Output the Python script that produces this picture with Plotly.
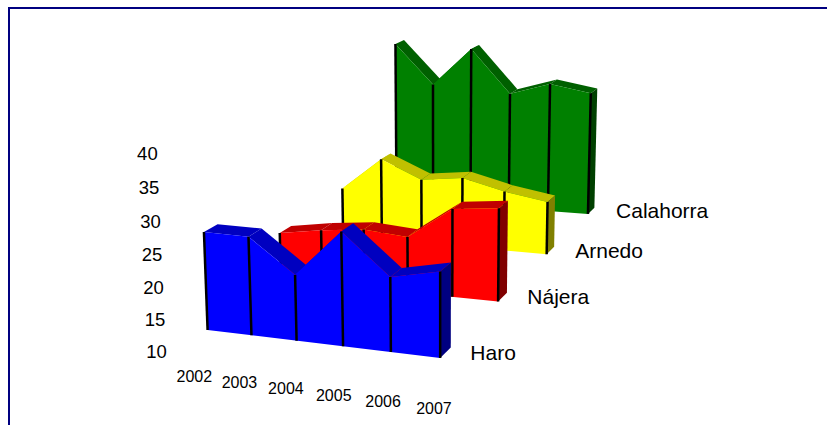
import plotly.graph_objects as go

# ---- data ----
years = ["2002", "2003", "2004", "2005", "2006", "2007"]
value_ticks = [10, 15, 20, 25, 30, 35, 40]
series_names = ["Haro", "Nájera", "Arnedo", "Calahorra"]
haro = [25.5, 25.4, 20.2, 27.4, 21.3, 22.8]
najera = [18.0, 19.1, 19.8, 19.2, 24.3, 25.0]
arnedo = [18.9, 24.7, 21.5, 22.3, 20.4, 19.1]
calahorra = [40.4, 32.9, 39.8, 31.7, 33.8, 32.4]

# ---- styles: front, top, end faces ----
front_colors = ["#0000FF", "#FF0000", "#FFFF00", "#008000"]
top_colors = ["#0000C0", "#C00000", "#C0C000", "#006000"]
end_colors = ["#000080", "#800000", "#808000", "#004000"]
FONT = "Liberation Sans, Arial, sans-serif"
BASE = 10
THICK = 0.17


def project(x, s, v):
    """Perspective view of the (year index, series index, value) box."""
    z = v - BASE
    w = 1 - 0.014 * x + 0.0896 * s - 0.001 * z
    px = (207.6 + 40.35 * x + 98.5 * s - 0.44 * z) / w
    py = (330 + 0.58 * x - 25.5 * s - 6.55 * z) / w
    return px, py


def poly(points, color):
    pts = [project(*p) for p in points] + [project(*points[0])]
    return go.Scatter(x=[p[0] for p in pts], y=[p[1] for p in pts], mode="lines",
                      fill="toself", fillcolor=color, line=dict(width=0),
                      hoverinfo="skip", showlegend=False)


fig = go.Figure()
all_series = [haro, najera, arnedo, calahorra]
xs = list(range(len(years)))

for s in reversed(range(len(all_series))):
    vals = all_series[s]
    for i in xs[:-1]:
        fig.add_trace(poly([(i, s, vals[i]), (i + 1, s, vals[i + 1]),
                            (i + 1, s + THICK, vals[i + 1]), (i, s + THICK, vals[i])],
                           top_colors[s]))
    last = xs[-1]
    fig.add_trace(poly([(last, s, BASE), (last, s + THICK, BASE),
                        (last, s + THICK, vals[last]), (last, s, vals[last])], end_colors[s]))
    fig.add_trace(poly([(i, s, BASE) for i in xs] + [(i, s, vals[i]) for i in reversed(xs)],
                       front_colors[s]))
    for i in xs:
        a, b = project(i, s, BASE), project(i, s, vals[i])
        fig.add_trace(go.Scatter(x=[a[0], b[0]], y=[a[1], b[1]], mode="lines",
                                 line=dict(color="#000000", width=2.5),
                                 hoverinfo="skip", showlegend=False))

# value axis labels
tick_pts = [project(-0.37, -0.42, v - 0.3) for v in value_ticks]
fig.add_trace(go.Scatter(x=[p[0] for p in tick_pts], y=[p[1] for p in tick_pts], mode="text",
                         text=[str(v) for v in value_ticks], textposition="middle center",
                         textfont=dict(family=FONT, size=18.5, color="#000000"),
                         hoverinfo="skip", showlegend=False))
# year labels
year_pts = [project(0.98 + 0.955 * i, -0.685, BASE - 0.2) for i in xs]
fig.add_trace(go.Scatter(x=[p[0] for p in year_pts], y=[p[1] for p in year_pts], mode="text",
                         text=years, textposition="middle center",
                         textfont=dict(family=FONT, size=16, color="#000000"),
                         hoverinfo="skip", showlegend=False))
# series labels
name_pts = [project(5.43 + 0.045 * s, s + 0.14, BASE - 0.4) for s in range(len(series_names))]
fig.add_trace(go.Scatter(x=[p[0] for p in name_pts], y=[p[1] for p in name_pts], mode="text",
                         text=series_names, textposition="middle right",
                         textfont=dict(family=FONT, size=21, color="#000000"),
                         hoverinfo="skip", showlegend=False))

fig.update_layout(
    width=827, height=425, margin=dict(l=0, r=0, t=0, b=0),
    paper_bgcolor="#FFFFFF", plot_bgcolor="#FFFFFF", showlegend=False,
    xaxis=dict(range=[0, 827], visible=False, fixedrange=True),
    yaxis=dict(range=[425, 0], visible=False, fixedrange=True),
    shapes=[dict(type="rect", xref="x", yref="y", x0=9, x1=900, y0=8, y1=440,
                 line=dict(color="#000080", width=2), fillcolor="rgba(0,0,0,0)", layer="below")],
)
fig.write_html("out.html", config=dict(displayModeBar=False),
               post_script="document.body.style.margin='0';document.documentElement.style.overflow='hidden';")
